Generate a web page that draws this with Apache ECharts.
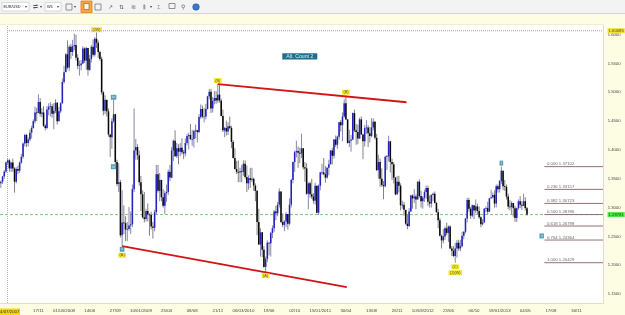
<!DOCTYPE html>
<html><head><meta charset="utf-8">
<script src="https://cdn.jsdelivr.net/npm/echarts@6/dist/echarts.min.js"></script>
<style>html,body{margin:0;padding:0;background:#fff;overflow:hidden}#c{width:625px;height:315px}</style>
</head><body><div id="c"></div>
<script>
// ---------- DATA (EUR/USD weekly) ----------
const firstOpen = 1.3420;
const closes = [
 1.3450,1.3540,1.3625,1.3780,1.3820,1.3680,1.3780,1.3680,1.3450,1.3670,1.3640,1.3780,1.3880,1.4110,1.4260,1.4120,1.4180,1.4300,1.4380,1.4500,1.4650,1.4640,1.4830,1.4630,1.4650,1.4420,1.4380,1.4700,
 1.4750,1.4760,1.4630,1.4680,1.4820,1.4500,1.4670,1.4810,1.5180,1.5350,1.5660,1.5430,1.5790,1.5700,1.5800,1.5820,1.5600,1.5460,1.5470,1.5500,1.5760,1.5550,1.5770,1.5390,1.5580,1.5790,1.5650,1.5930,1.5860,1.5700,1.5580,1.5000,1.4680,1.4870,1.4670,1.4270,1.4220,1.4500,1.4620,1.3790,1.3410,1.3440,1.2520,1.2740,1.2730,1.2620,1.2630,1.2690,1.2710,1.3320,1.3990,1.4050,
 1.3910,1.3440,1.3230,1.2830,1.2800,1.2940,1.2880,1.2870,1.2670,1.2650,1.2920,1.3580,1.3290,1.3480,1.3180,1.3030,1.3250,1.3270,1.3620,1.3520,1.3990,1.4160,1.3890,1.4030,1.3970,1.4040,1.3960,1.3940,1.4120,1.4240,1.4260,1.4190,1.4190,1.4330,1.4340,1.4310,1.4570,1.4710,1.4580,1.4580,1.4710,1.4930,1.5010,1.4720,1.4850,1.4900,1.4860,1.4960,1.4860,1.4590,1.4340,1.4380,
 1.4320,1.4410,1.4380,1.4140,1.3860,1.3670,1.3620,1.3610,1.3630,1.3620,1.3760,1.3530,1.3420,1.3510,1.3480,1.3500,1.3380,1.3290,1.2750,1.2360,1.2570,1.2270,1.1970,1.2110,1.2390,1.2380,1.2560,1.2640,1.2930,1.2900,1.3050,1.3280,1.2750,1.2700,1.2760,1.2890,1.2720,1.3050,1.3480,1.3790,1.3960,1.3980,1.3950,1.3940,1.4030,1.3700,1.3680,1.3240,1.3420,1.3230,1.3190,1.3120,1.3380,
 1.2910,1.3380,1.3610,1.3610,1.3580,1.3520,1.3690,1.3750,1.3990,1.3900,1.4180,1.4090,1.4230,1.4480,1.4430,1.4580,1.4810,1.4530,1.4120,1.4160,1.4180,1.4640,1.4340,1.4310,1.4200,1.4530,1.4270,1.4150,1.4380,1.4390,1.4290,1.4240,1.4390,1.4490,1.4210,1.3650,1.3790,1.3500,1.3390,1.3370,1.3880,1.3890,1.4150,1.3790,1.3750,1.3520,1.3230,1.3450,1.3380,1.3040,1.3050,1.2960,
 1.2720,1.2680,1.2930,1.3210,1.3160,1.3190,1.3140,1.3450,1.3200,1.3110,1.3170,1.3270,1.3340,1.3100,1.3070,1.3220,1.3240,1.3080,1.2920,1.2780,1.2510,1.2430,1.2500,1.2640,1.2560,1.2670,1.2290,1.2250,1.2160,1.2290,1.2390,1.2290,1.2330,1.2510,1.2580,1.2810,1.3130,1.2980,1.2860,1.3040,1.2950,1.3020,1.2940,1.2830,1.2710,1.2740,1.2980,1.2990,1.2930,1.3160,1.3180,1.3220,
 1.3070,1.3370,1.3320,1.3460,1.3640,1.3370,1.3360,1.3190,1.3020,1.3010,1.3080,1.2990,1.2820,1.2990,1.3110,1.3050,1.3030,1.3110,1.2990,1.28781
];
const highs = [
 1.3470,1.3550,1.3650,1.3800,1.3850,1.3840,1.3790,1.3850,1.3700,1.3700,1.3730,1.3800,1.3930,1.4130,1.4280,1.4280,1.4220,1.4350,1.4420,1.4530,1.4750,1.4730,1.4966,1.4900,1.4730,1.4760,1.4450,1.4760,
 1.4810,1.4830,1.4800,1.4810,1.4880,1.4830,1.4750,1.4830,1.5240,1.5460,1.5680,1.5900,1.5820,1.5840,1.5910,1.6019,1.6000,1.5660,1.5550,1.5560,1.5800,1.5780,1.5790,1.5640,1.5650,1.5820,1.5920,1.5960,1.6038,1.5900,1.5720,1.5620,1.5020,1.4950,1.4870,1.4720,1.4270,1.4550,1.4867,1.4630,1.3830,1.3770,1.3480,1.3300,1.3040,1.2850,1.2750,1.3010,1.2930,1.3400,1.4720,1.4190,
 1.4100,1.3990,1.3550,1.3300,1.3270,1.2980,1.3070,1.2900,1.2930,1.2750,1.2960,1.3740,1.3740,1.3600,1.3460,1.3320,1.3290,1.3400,1.3660,1.3740,1.4050,1.4180,1.4340,1.4120,1.4100,1.4120,1.4200,1.4000,1.4200,1.4280,1.4300,1.4450,1.4350,1.4350,1.4440,1.4350,1.4620,1.4790,1.4770,1.4730,1.4800,1.4940,1.5060,1.5060,1.4920,1.5020,1.5020,1.5144,1.5140,1.4890,1.4700,1.4400,
 1.4510,1.4480,1.4580,1.4420,1.4170,1.4030,1.3810,1.3820,1.3690,1.3740,1.3820,1.3820,1.3730,1.3560,1.3690,1.3690,1.3520,1.3420,1.3300,1.2980,1.2640,1.2570,1.2330,1.2150,1.2430,1.2400,1.2580,1.2690,1.2960,1.3030,1.3100,1.3333,1.3270,1.2900,1.2780,1.2920,1.2880,1.3160,1.3500,1.3800,1.3990,1.4160,1.4060,1.4040,1.4282,1.4030,1.3790,1.3770,1.3440,1.3450,1.3500,1.3250,1.3430,
 1.3380,1.3400,1.3620,1.3760,1.3860,1.3720,1.3700,1.3830,1.4000,1.4040,1.4190,1.4250,1.4250,1.4490,1.4520,1.4650,1.4880,1.4940,1.4530,1.4350,1.4260,1.4650,1.4700,1.4450,1.4440,1.4560,1.4580,1.4280,1.4430,1.4520,1.4430,1.4400,1.4550,1.4550,1.4500,1.4280,1.3920,1.3850,1.3680,1.3460,1.3900,1.3910,1.4247,1.4100,1.3850,1.3790,1.3530,1.3550,1.3550,1.3420,1.3120,1.3100,
 1.2950,1.2880,1.2990,1.3220,1.3230,1.3320,1.3230,1.3450,1.3490,1.3290,1.3200,1.3310,1.3380,1.3380,1.3210,1.3230,1.3260,1.3280,1.3100,1.2980,1.2820,1.2530,1.2630,1.2670,1.2740,1.2690,1.2690,1.2330,1.2330,1.2390,1.2440,1.2440,1.2440,1.2580,1.2590,1.2820,1.3170,1.3170,1.3010,1.3050,1.3010,1.3140,1.3070,1.3020,1.2850,1.2800,1.2990,1.3020,1.3100,1.3170,1.3310,1.3260,
 1.3300,1.3400,1.3400,1.3480,1.3711,1.3620,1.3480,1.3400,1.3240,1.3130,1.3110,1.3060,1.3030,1.3000,1.3140,1.3200,1.3110,1.3240,1.3180,1.3010
];
const lows = [
 1.3340,1.3410,1.3500,1.3600,1.3740,1.3620,1.3620,1.3620,1.3260,1.3420,1.3580,1.3600,1.3760,1.3850,1.4060,1.4050,1.4060,1.4150,1.4200,1.4370,1.4460,1.4500,1.4640,1.4580,1.4570,1.4400,1.4340,1.4360,
 1.4600,1.4580,1.4560,1.4360,1.4640,1.4440,1.4500,1.4640,1.4800,1.5150,1.5350,1.5400,1.5370,1.5580,1.5630,1.5730,1.5550,1.5400,1.5290,1.5380,1.5490,1.5510,1.5390,1.5290,1.5370,1.5520,1.5620,1.5620,1.5770,1.5600,1.5550,1.4960,1.4600,1.4620,1.4580,1.4230,1.3880,1.4020,1.4470,1.3750,1.3370,1.3270,1.2480,1.2330,1.2540,1.2420,1.2420,1.2600,1.2540,1.2660,1.3270,1.3830,
 1.3830,1.3380,1.2940,1.2810,1.2740,1.2760,1.2760,1.2510,1.2620,1.2460,1.2590,1.2880,1.3260,1.3110,1.3110,1.3000,1.2890,1.3100,1.3220,1.3460,1.3510,1.3810,1.3880,1.3860,1.3750,1.3890,1.3920,1.3840,1.3890,1.4080,1.4010,1.4170,1.4070,1.4040,1.4200,1.4130,1.4290,1.4540,1.4550,1.4480,1.4530,1.4700,1.4880,1.4640,1.4650,1.4790,1.4800,1.4820,1.4820,1.4580,1.4310,1.4220,
 1.4250,1.4260,1.4360,1.4030,1.3850,1.3660,1.3580,1.3440,1.3440,1.3440,1.3550,1.3500,1.3270,1.3310,1.3340,1.3440,1.3290,1.3110,1.2520,1.2350,1.2150,1.2140,1.1960,1.1876,1.2050,1.2170,1.2150,1.2470,1.2580,1.2780,1.2850,1.3000,1.2730,1.2660,1.2590,1.2660,1.2620,1.2690,1.3000,1.3420,1.3620,1.3870,1.3690,1.3770,1.3860,1.3660,1.3450,1.3220,1.2970,1.3170,1.3150,1.3070,1.3050,
 1.2900,1.2870,1.3300,1.3570,1.3560,1.3430,1.3500,1.3560,1.3770,1.3750,1.3850,1.4050,1.4020,1.4180,1.4320,1.4150,1.4560,1.4520,1.4110,1.4050,1.3970,1.4170,1.4310,1.4090,1.4100,1.4190,1.4260,1.3840,1.4060,1.4280,1.4050,1.4130,1.4220,1.4340,1.4180,1.3630,1.3500,1.3360,1.3360,1.3145,1.3350,1.3650,1.3800,1.3610,1.3480,1.3420,1.3210,1.3220,1.3260,1.2950,1.2980,1.2860,
 1.2700,1.2624,1.2660,1.2930,1.2980,1.3080,1.2970,1.3150,1.3170,1.3000,1.2980,1.3100,1.3150,1.3030,1.3000,1.3000,1.3110,1.3070,1.2910,1.2640,1.2500,1.2290,1.2380,1.2440,1.2520,1.2400,1.2280,1.2160,1.2140,1.2042,1.2130,1.2250,1.2240,1.2310,1.2450,1.2550,1.2740,1.2930,1.2800,1.2830,1.2800,1.2900,1.2880,1.2800,1.2660,1.2690,1.2740,1.2920,1.2880,1.2920,1.3150,1.3160,
 1.3000,1.3000,1.3260,1.3260,1.3410,1.3300,1.3290,1.3140,1.2970,1.2950,1.2880,1.2840,1.2750,1.2750,1.2960,1.2990,1.2960,1.3030,1.2950,1.2860
];
const tickLabels = ['17/11','01/03/2008','14/06','27/09','10/01/2009','25/04','08/08','21/11','06/03/2010','19/06','02/10','15/01/2011','30/04','13/08','26/11','10/03/2012','23/06','06/10','19/01/2013','04/05','17/08','30/11'];
const tickFirstWeek = 22, tickEvery = 15;
const weekSlots = 353;
const priceTicks = {min: 1.15, max: 1.60, step: 0.05};
const fibRatios = ['0.000','0.236','0.382','0.500','0.618','0.764','1.000'];
const fibPrices = [1.37102,1.33157,1.30723,1.28786,1.26798,1.24364,1.20429];
const fibStartWeek = 318.7;
const trendUpper = [[127.5,1.5144],[238,1.4828]];
const trendLower = [[71.5,1.2330],[203,1.1620]];
const topLevel = 1.60685;
const topLevelFromWeek = 4.1;
const waveMarks = [
 {week:56, side:'high', text:'(2W)', tone:'gold', gap:0.4},
 {week:66, side:'high', text:'iv', tone:'blue', gap:0.2},
 {week:66, price:1.3709, side:'mid', text:'iii', tone:'blue'},
 {week:71, side:'low', text:'v', tone:'blue', gap:0.6},
 {week:71, side:'low', text:'(A)', tone:'gold', gap:6.6},
 {week:127, side:'high', text:'(B)', tone:'gold', gap:1.0},
 {week:155, side:'low', text:'(A)', tone:'gold', gap:0.8},
 {week:202, side:'high', text:'(B)', tone:'gold', gap:1.0},
 {week:266, side:'low', text:'(C)', tone:'gold', gap:1.5},
 {week:266, side:'low', text:'(2)(W)', tone:'gold', gap:7.4},
 {week:293, side:'high', text:'i', tone:'blue', gap:1.0},
 {week:316.6, price:1.24364, side:'above', text:'ii', tone:'blue', gap:1.6}
];

// ---------- BUILD ----------
const n = Math.min(closes.length, highs.length, lows.length);
const ohlc = [];
for (let i = 0; i < n; i++) {
  const o = i === 0 ? firstOpen : closes[i-1];
  const c = closes[i];
  ohlc.push([i, o, c, Math.min(lows[i], o, c), Math.max(highs[i], o, c)]);
}
const lastClose = closes[n-1];
const catNames = Array.from({length: weekSlots}, (_, i) => 'w' + i);
function tickText(idx){
  const k = (idx - tickFirstWeek) / tickEvery;
  return (Number.isInteger(k) && k >= 0 && k < tickLabels.length) ? tickLabels[k] : '';
}
const FONT = 'Liberation Sans';
function renderCandle(params, api){
  const o = api.value(1), c = api.value(2), l = api.value(3), h = api.value(4);
  const x = api.coord([api.value(0), o])[0];
  const yo = api.coord([0,o])[1], yc = api.coord([0,c])[1];
  const yl = api.coord([0,l])[1], yh = api.coord([0,h])[1];
  const bw = api.size([1,0])[0] * 0.9;
  const up = c >= o;
  return {type:'group', children:[
    {type:'line', shape:{x1:x, y1:yh, x2:x, y2:yl}, style:{stroke: up ? '#8686b0' : '#828282', lineWidth:1}},
    {type:'rect', shape:{x:x-bw/2, y:Math.min(yo,yc), width:bw, height:Math.max(0.8, Math.abs(yo-yc))},
     style:{fill: up ? '#2222bc' : '#080808'}}
  ]};
}
const toneStyle = {
  gold: {backgroundColor:'#f4e300', color:'#333'},
  blue: {backgroundColor:'#2f86ad', color:'#ffffff'}
};
const waveData = waveMarks.map(m => {
  const price = m.price !== undefined ? m.price : (m.side === 'high' ? highs[m.week] : lows[m.week]);
  const pos = m.side === 'low' ? 'bottom' : (m.side === 'mid' ? 'inside' : 'top');
  return {value:[m.week + 0.5, price], label:Object.assign({show:true, formatter:m.text, position:pos, distance:m.gap || 0,
    fontSize:3.8, fontFamily:FONT, padding:[0.4,1.4], lineHeight:4.2}, toneStyle[m.tone])};
});
const lineSeries = (data, style, z) => ({type:'line', xAxisIndex:1, yAxisIndex:0, data, symbol:'none', clip:false,
  silent:true, animation:false, lineStyle:style, z: z || 4});

const series = [
  lineSeries([[0,lastClose],[weekSlots,lastClose]], {color:'#7cc67c', width:1, type:[3,2]}, 1),
  lineSeries([[topLevelFromWeek,topLevel],[weekSlots,topLevel]], {color:'#a0a0a0', width:1, type:[1,1]}, 1),
  {type:'custom', xAxisIndex:0, yAxisIndex:0, renderItem:renderCandle, data:ohlc, clip:false, z:3,
   encode:{x:0, y:[1,2,3,4]}},
  lineSeries(trendUpper, {color:'#d21414', width:1.8}),
  lineSeries(trendLower, {color:'#d21414', width:1.8}),
];
fibPrices.forEach(p => series.push(lineSeries([[fibStartWeek,p],[weekSlots,p]], {color:'#8e7272', width:1})));
series.push({type:'scatter', xAxisIndex:1, yAxisIndex:0, symbolSize:0, clip:false, silent:true, z:6,
  data: fibPrices.map((p,k) => ({value:[fibStartWeek,p], label:{show:true, position:'right', distance:2.5, offset:[0,-2.6],
     formatter: fibRatios[k] + ' ' + p.toFixed(5), fontSize:4.3, fontFamily:FONT, color:'#444'}}))});
series.push({type:'scatter', xAxisIndex:1, yAxisIndex:0, symbolSize:0, clip:false, silent:true, z:7, data: waveData});
// price tags on the right scale
series.push({type:'scatter', xAxisIndex:1, yAxisIndex:0, symbolSize:0, clip:false, silent:true, z:8,
  data:[
    {value:[weekSlots, topLevel], label:{show:true, position:'right', distance:4.6, formatter: topLevel.toFixed(5),
      backgroundColor:'#f2d400', color:'#333', fontSize:4.2, fontFamily:FONT, padding:[0.5,1]}},
    {value:[weekSlots, lastClose], label:{show:true, position:'right', distance:4.6, formatter: lastClose.toFixed(5),
      backgroundColor:'#22e022', color:'#083008', fontSize:4.2, fontFamily:FONT, padding:[0.5,1]}}
  ]});

// ---------- FRAME / TOOLBAR GRAPHICS ----------
const bandFill = '#fdfde4', bandLine = '#ece39a';
const gfx = [
  {type:'rect', z:-100, shape:{x:0,y:14,width:625,height:10}, style:{fill:bandFill}},
  {type:'rect', z:-100, shape:{x:603,y:14,width:22,height:301}, style:{fill:bandFill}},
  {type:'rect', z:-100, shape:{x:0,y:303,width:625,height:12}, style:{fill:bandFill}},
  {type:'line', z:-99, shape:{x1:603.5,y1:24,x2:603.5,y2:303}, style:{stroke:bandLine, lineWidth:1}},
  {type:'line', z:-99, shape:{x1:0,y1:303.5,x2:604,y2:303.5}, style:{stroke:bandLine, lineWidth:1}},
  {type:'line', z:-99, shape:{x1:0,y1:24.5,x2:604,y2:24.5}, style:{stroke:'#f3efc8', lineWidth:1}},
  {type:'line', z:-99, shape:{x1:7.5,y1:26,x2:7.5,y2:303}, style:{stroke:'#b0b0b0', lineWidth:1, lineDash:[1,1]}},
  // toolbar
  {type:'rect', z:50, shape:{x:0,y:0,width:625,height:14}, style:{fill:'#f3f3f3'}},
  {type:'line', z:51, shape:{x1:0,y1:13.5,x2:625,y2:13.5}, style:{stroke:'#d6d6d6', lineWidth:1}},
  {type:'rect', z:51, shape:{x:2,y:2.5,width:27,height:8.5}, style:{fill:'#ffffff', stroke:'#c4c4c4', lineWidth:0.6}},
  {type:'text', z:52, x:3.5, y:7, style:{text:'EUR/USD', fontSize:3.8, fontFamily:FONT, fill:'#222', verticalAlign:'middle'}},
  {type:'text', z:52, x:24.5, y:7, style:{text:'▾', fontSize:4, fill:'#444', verticalAlign:'middle'}},
  {type:'text', z:52, x:33, y:7, style:{text:'⇌', fontSize:6, fill:'#555', verticalAlign:'middle'}},
  {type:'text', z:52, x:40, y:7, style:{text:'▾', fontSize:4, fill:'#444', verticalAlign:'middle'}},
  {type:'rect', z:51, shape:{x:45,y:2.5,width:16,height:8.5}, style:{fill:'#ffffff', stroke:'#c4c4c4', lineWidth:0.6}},
  {type:'text', z:52, x:47, y:7, style:{text:'W1', fontSize:4, fontFamily:FONT, fill:'#222', verticalAlign:'middle'}},
  {type:'text', z:52, x:56.5, y:7, style:{text:'▾', fontSize:4, fill:'#444', verticalAlign:'middle'}},
  {type:'rect', z:51, shape:{x:66,y:4,width:6,height:6}, style:{fill:'none', stroke:'#777', lineWidth:0.8}},
  {type:'text', z:52, x:74, y:7, style:{text:'▾', fontSize:4, fill:'#444', verticalAlign:'middle'}},
  {type:'rect', z:51, shape:{x:81,y:1,width:11,height:11.5}, style:{fill:'#f5a54a', stroke:'#d9821c', lineWidth:0.8}},
  {type:'rect', z:52, shape:{x:84,y:3.5,width:5,height:6}, style:{fill:'#fff4e0', stroke:'#8a5a20', lineWidth:0.6}},
  {type:'rect', z:51, shape:{x:95,y:4,width:6,height:6}, style:{fill:'none', stroke:'#777', lineWidth:0.8}},
  {type:'text', z:52, x:108, y:7, style:{text:'↗', fontSize:6, fill:'#555', verticalAlign:'middle'}},
  {type:'text', z:52, x:119, y:7, style:{text:'⇅', fontSize:6, fill:'#555', verticalAlign:'middle'}},
  {type:'text', z:52, x:131, y:7, style:{text:'≋', fontSize:6, fill:'#555', verticalAlign:'middle'}},
  {type:'text', z:52, x:143, y:7, style:{text:'⫴', fontSize:6, fill:'#555', verticalAlign:'middle'}},
  {type:'text', z:52, x:150, y:7, style:{text:'▾', fontSize:4, fill:'#444', verticalAlign:'middle'}},
  {type:'text', z:52, x:157, y:7, style:{text:'⌶', fontSize:6, fill:'#444', verticalAlign:'middle'}},
  {type:'rect', z:51, shape:{x:169,y:3.5,width:6,height:5}, style:{fill:'none', stroke:'#777', lineWidth:0.8}},
  {type:'text', z:52, x:181, y:7, style:{text:'⚲', fontSize:6, fill:'#666', verticalAlign:'middle'}},
  {type:'circle', z:51, shape:{cx:196,cy:7,r:3.3}, style:{fill:'#3a78c8', stroke:'#1f4f8f', lineWidth:0.5}},
  // cursor date box
  {type:'rect', z:60, shape:{x:0,y:308.5,width:20,height:6.5}, style:{fill:'#f4d60c'}},
  {type:'text', z:61, x:19.5, y:311.9, style:{text:'14/07/2007', fontSize:4.4, fontFamily:FONT, fill:'#333', align:'right', verticalAlign:'middle'}},
  // Alt. Count 2 note
  {type:'rect', z:60, shape:{x:282.3,y:53.2,width:35,height:6.3}, style:{fill:'#216f8d'}},
  {type:'text', z:61, x:299.8, y:56.4, style:{text:'Alt. Count 2', fontSize:5.2, fontFamily:FONT, fill:'#d6f1ff', align:'center', verticalAlign:'middle'}}
];

const chart = echarts.init(document.getElementById('c'), null, {renderer:'canvas'});
chart.setOption({
  animation:false,
  backgroundColor:'#ffffff',
  textStyle:{fontFamily:FONT},
  grid:{left:0, right:22, top:34.7, bottom:21, containLabel:false, outerBoundsMode:'none'},
  xAxis:[
    {type:'category', data:catNames, boundaryGap:true, position:'bottom',
     axisLine:{show:false}, axisTick:{show:false}, splitLine:{show:false},
     axisLabel:{interval:0, margin:15, fontSize:4.4, color:'#444', formatter:(v, idx) => tickText(idx), hideOverlap:false}},
    {type:'value', min:0, max:weekSlots, show:false}
  ],
  yAxis:[{type:'value', position:'right', min:priceTicks.min, max:priceTicks.max, interval:priceTicks.step, scale:true,
     axisLine:{show:false}, axisTick:{show:false}, splitLine:{show:false},
     axisLabel:{fontSize:4.2, color:'#444', margin:4.7, formatter:v => v.toFixed(4)}}],
  graphic:{elements:gfx},
  series
});
</script>
</body></html>
